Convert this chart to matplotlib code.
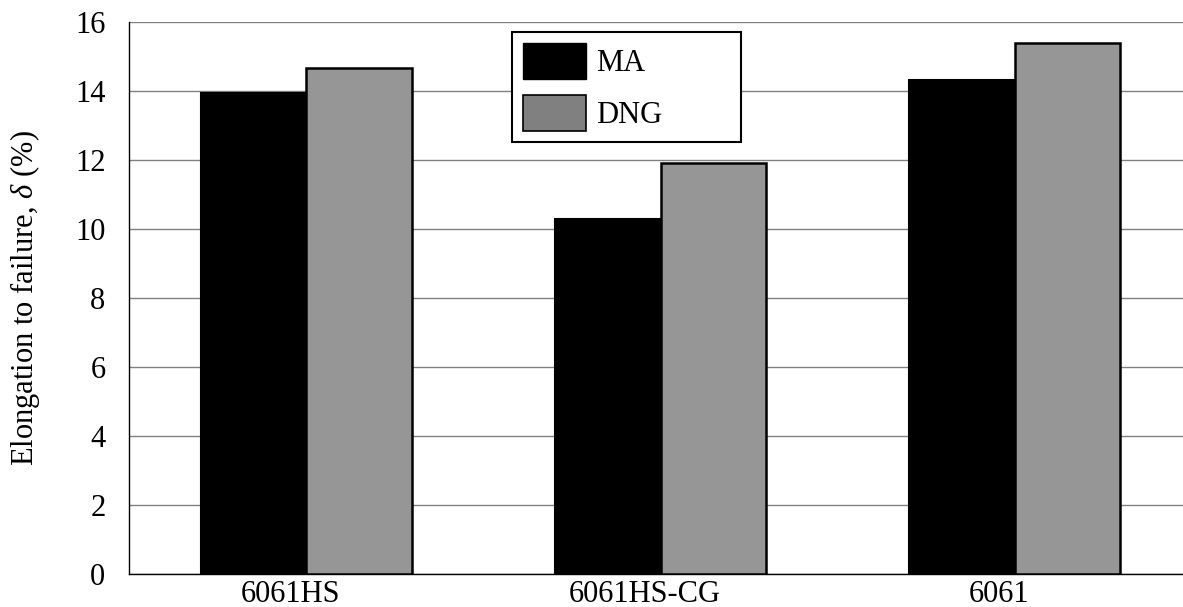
import matplotlib
matplotlib.use("Agg")
import matplotlib.pyplot as plt
import numpy as np
from matplotlib.patches import Patch

plt.rcParams['font.family'] = ['Liberation Serif', 'DejaVu Serif']
plt.rcParams['mathtext.fontset'] = 'custom'
plt.rcParams['mathtext.it'] = 'Liberation Serif:italic'
plt.rcParams['mathtext.rm'] = 'Liberation Serif'

# data
categories = ['6061HS', '6061HS-CG', '6061']
series_names = ['MA', 'DNG']
ma_values = [13.93, 10.30, 14.33]
dng_values = [14.68, 11.90, 15.38]

FS = 22
W, H = 1183, 607
fig = plt.figure(figsize=(W / 100, H / 100), dpi=100)
# axes runs a bit past the right edge, like the cropped original
ax = fig.add_axes([129 / W, (H - 574) / H, 1063 / W, (574 - 22) / H])

x = np.arange(len(categories))
bw = 0.298
ax.bar(x - bw / 2, ma_values, width=bw, color='black', edgecolor='black', linewidth=1.5, zorder=3)
ax.bar(x + bw / 2, dng_values, width=bw, color='#969696', edgecolor='black', linewidth=1.8, zorder=3)

ax.set_xlim(-0.5, 2.5)
ax.set_ylim(0, 16)
ax.set_yticks(np.arange(0, 17, 2))
ax.set_xticks(x - 0.045)
ax.set_xticklabels(categories)
ax.tick_params(axis='both', length=0, labelsize=FS)
ax.tick_params(axis='y', pad=17)
ax.tick_params(axis='x', pad=4)

ax.yaxis.grid(True, color='#808080', linewidth=1.0)
ax.set_axisbelow(True)
for s in ['top', 'right']:
    ax.spines[s].set_visible(False)
for s in ['left', 'bottom']:
    ax.spines[s].set_color('black')
    ax.spines[s].set_linewidth(1.0)

ax.set_ylabel(r'Elongation to failure, $\delta$ (%)', fontsize=FS)
ax.yaxis.set_label_coords(-(129 - 42) / 1063, 0.5)

handles = [Patch(facecolor='black', edgecolor='black'),
           Patch(facecolor='#808080', edgecolor='black', linewidth=1.2)]
leg = fig.legend(handles, series_names, loc='upper left',
                 bbox_to_anchor=(512 / W, (H - 144) / H, (741 - 512) / W, (144 - 32) / H),
                 bbox_transform=fig.transFigure, mode='expand', borderaxespad=0,
                 fontsize=FS, handlelength=2.06, handleheight=1.45,
                 labelspacing=0.5, borderpad=0.36, handletextpad=0.33,
                 fancybox=False, framealpha=1)
leg.get_frame().set_edgecolor('black')
leg.get_frame().set_linewidth(1.5)

fig.savefig('out.png', dpi=100)
